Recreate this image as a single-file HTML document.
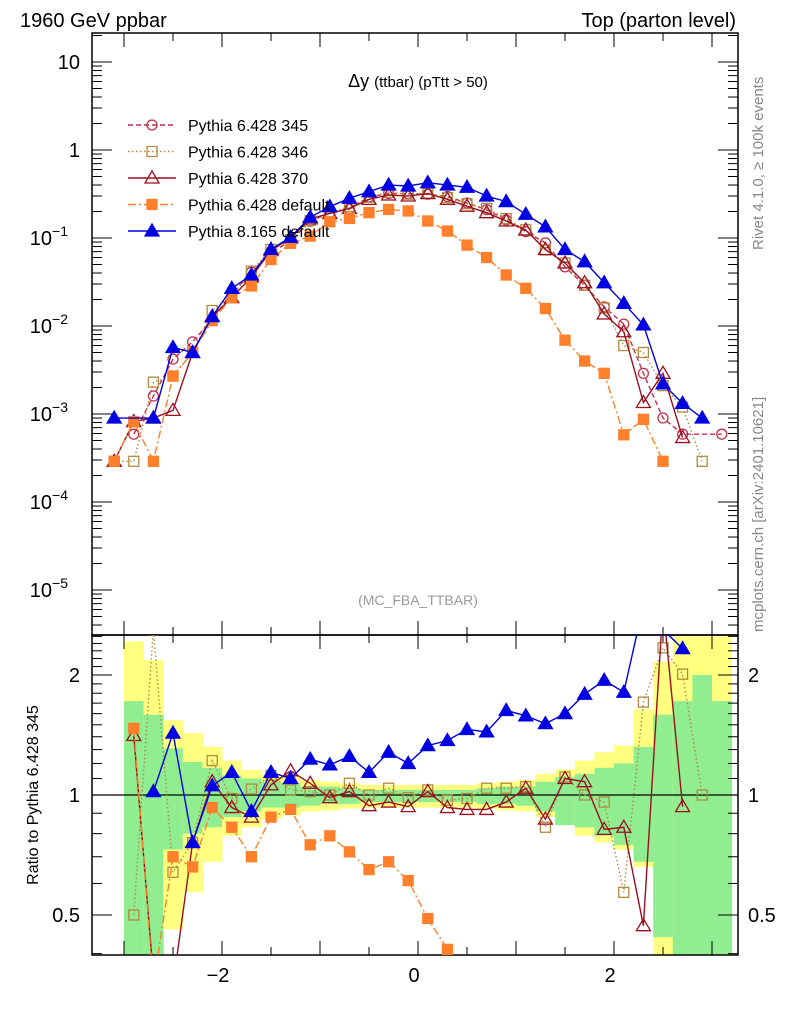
<!DOCTYPE html>
<html><head><meta charset="utf-8"><style>
html,body{margin:0;padding:0;background:#fff;width:786px;height:1024px;overflow:hidden;}
svg{display:block;font-family:"Liberation Sans",sans-serif;}
</style></head><body>
<svg id="chart" width="786" height="1024" viewBox="0 0 786 1024">
<defs>
<clipPath id="clipMain"><rect x="92" y="33" width="646" height="602"/></clipPath>
<clipPath id="clipRatio"><rect x="92" y="635" width="646" height="320"/></clipPath>
</defs>
<g id="bands" clip-path="url(#clipRatio)"></g>
<g id="axes"></g>
<g id="mainMarks" clip-path="url(#clipMain)"></g>
<g id="ratioMarks" clip-path="url(#clipRatio)"></g>
<text x="20" y="27" font-size="20">1960 GeV ppbar</text>
<text x="736" y="27" font-size="20" text-anchor="end">Top (parton level)</text>
<text x="418" y="87" font-size="18" text-anchor="middle">Δy <tspan font-size="15">(ttbar) (pTtt &gt; 50)</tspan></text>
<text x="418" y="605" font-size="14" fill="#999" text-anchor="middle">(MC_FBA_TTBAR)</text>
<text transform="translate(763,250) rotate(-90)" font-size="15" fill="#888">Rivet 4.1.0, ≥ 100k events</text>
<text transform="translate(763,632) rotate(-90)" font-size="15" fill="#888">mcplots.cern.ch [arXiv:2401.10621]</text>
<text transform="translate(38,795) rotate(-90)" font-size="16" text-anchor="middle">Ratio to Pythia 6.428 345</text>
<g id="legend"></g>
</svg>
<script>
const centers = [];
for (let i = 0; i < 32; i++) centers.push(-3.1 + 0.2 * i);
const binEdgesStart = -3.0;
const s345 = [null,5.9e-4,1.6e-3,4.2e-3,6.6e-3,0.012,0.023,0.041,0.068,0.093,0.155,0.193,0.213,0.293,0.32,0.32,0.314,0.296,0.25,0.21,0.16,0.118,0.088,0.047,0.029,0.0165,0.0105,2.9e-3,9e-4,5.9e-4,null,5.9e-4];
const s346 = [2.9e-4,2.9e-4,2.3e-3,2.7e-3,5e-3,0.015,0.022,0.042,0.074,0.096,0.158,0.19,0.228,0.29,0.33,0.315,0.323,0.287,0.245,0.218,0.166,0.124,0.073,0.052,0.029,0.016,6e-3,5e-3,2.1e-3,1.2e-3,2.9e-4,null];
const s370 = [2.9e-4,8.2e-4,9e-4,1.1e-3,5e-3,0.0128,0.021,0.036,0.072,0.1,0.165,0.19,0.217,0.275,0.308,0.30,0.32,0.275,0.23,0.194,0.156,0.123,0.074,0.052,0.031,0.0137,8.6e-3,1.35e-3,2.9e-3,5.4e-4,null,null];
const sDef = [2.9e-4,8.2e-4,2.9e-4,2.7e-3,5e-3,0.0115,0.021,0.0285,0.057,0.087,0.105,0.153,0.167,0.194,0.211,0.203,0.156,0.12,0.083,0.06,0.038,0.0268,0.0158,6.9e-3,4e-3,2.9e-3,5.8e-4,8.7e-4,2.9e-4,null,null,null];
const s8 = [9e-4,null,9e-4,5.7e-3,5e-3,0.0128,0.0268,0.038,0.0744,0.102,0.172,0.227,0.283,0.336,0.40,0.39,0.425,0.40,0.377,0.30,0.259,0.186,0.134,0.074,0.0538,0.031,0.0181,0.0103,2.2e-3,1.32e-3,9e-4,null];
const r346 = [null,0.5,2.6,0.64,0.76,1.22,0.98,1.035,1.12,1.03,1.02,1.0,1.07,1.0,1.04,0.985,1.03,0.97,0.98,1.04,1.04,1.05,0.83,1.11,1.0,0.96,0.57,1.71,2.34,2.01,1.0,null];
const r370 = [null,1.41,0.35,0.26,0.76,1.08,0.93,0.88,1.06,1.15,1.07,0.985,1.02,0.94,0.96,0.935,1.02,0.93,0.92,0.92,0.96,1.04,0.87,1.1,1.08,0.82,0.83,0.47,3.2,0.935,null,null];
const rDef = [null,1.47,0.3,0.7,0.66,0.93,0.83,0.70,0.88,0.92,0.75,0.79,0.72,0.65,0.68,0.61,0.49,0.41,0.33,0.29,0.24,0.23,0.18,0.15,0.14,0.17,0.06,0.3,0.32,null,null,null];
const r8 = [null,null,1.02,1.43,0.76,1.055,1.14,0.91,1.14,1.1,1.23,1.19,1.25,1.14,1.28,1.2,1.33,1.37,1.46,1.44,1.63,1.58,1.51,1.6,1.79,1.94,1.81,3.5,2.6,2.33,null,null];
const yellowHi = [2.43,2.18,1.54,1.43,1.32,1.22,1.155,1.13,1.11,1.09,1.08,1.07,1.06,1.06,1.06,1.06,1.06,1.06,1.07,1.08,1.09,1.13,1.16,1.22,1.28,1.33,1.64,2.16,2.5,2.5,2.5];
const yellowLo = [0.3,0.3,0.46,0.57,0.68,0.79,0.83,0.87,0.89,0.91,0.915,0.925,0.93,0.93,0.93,0.93,0.93,0.93,0.925,0.915,0.91,0.88,0.86,0.79,0.76,0.73,0.66,0.3,0.3,0.3,0.3];
const greenHi = [1.72,1.59,1.31,1.21,1.17,1.12,1.10,1.08,1.07,1.05,1.05,1.04,1.03,1.03,1.03,1.03,1.03,1.03,1.04,1.05,1.05,1.08,1.11,1.13,1.17,1.20,1.32,1.59,1.72,2.0,1.72];
const greenLo = [0.3,0.3,0.73,0.80,0.83,0.88,0.91,0.93,0.93,0.94,0.95,0.95,0.96,0.96,0.96,0.96,0.96,0.96,0.95,0.95,0.94,0.91,0.84,0.83,0.79,0.75,0.68,0.44,0.3,0.3,0.3];
const xTickLabels = [-2, 0, 2];
const yTickDecades = [-5, -4, -3, -2, -1, 0, 1];
const ratioTickLabels = [0.5, 1, 2];

const NS = "http://www.w3.org/2000/svg";
const X0 = 92, X1 = 738, YT = 33, YM = 635, YB = 955;
const xS = v => 418 + 98 * v;
const yS = v => Math.min(1000, 150 - 88 * Math.log10(v));
const rRaw = v => 795 - 120 * Math.log2(v);
const rS = v => Math.max(YM - 30, Math.min(YB + 30, rRaw(v)));
function mk(tag, attrs, parent) {
  const e = document.createElementNS(NS, tag);
  for (const k in attrs) e.setAttribute(k, attrs[k]);
  parent.appendChild(e);
  return e;
}
const axes = document.getElementById('axes');
const bands = document.getElementById('bands');

for (let i = 0; i < yellowHi.length; i++) {
  const xa = xS(binEdgesStart + 0.2 * i), xb = xS(binEdgesStart + 0.2 * (i + 1));
  const y = mk('rect', {x: xa, y: rS(yellowHi[i]), width: xb - xa + 0.5, height: rS(yellowLo[i]) - rS(yellowHi[i]), fill: '#ffff80'}, bands);
  
  
  const g = mk('rect', {x: xa, y: rS(greenHi[i]), width: xb - xa + 0.5, height: rS(greenLo[i]) - rS(greenHi[i]), fill: '#90ee90'}, bands);
  
  
}

const f1 = mk('rect', {x: X0, y: YT, width: X1 - X0, height: YM - YT, fill: 'none', stroke: '#000', 'stroke-width': 1.5}, axes);


const f2 = mk('rect', {x: X0, y: YM, width: X1 - X0, height: YB - YM, fill: 'none', stroke: '#000', 'stroke-width': 1.5}, axes);


const one = mk('line', {x1: X0, x2: X1, y1: rS(1), y2: rS(1), stroke: '#000', 'stroke-width': 1.2}, axes);



for (let v = -3; v <= 3.01; v += 0.5) {
  const x = xS(v);
  if (x < X0 || x > X1) continue;
  const L = Math.abs(v - Math.round(v)) < 1e-6 ? 14 : 8;
  for (const [yb, dir] of [[YM, -1], [YT, 1], [YB, -1], [YM, 1]]) {
    mk('line', {x1: x, x2: x, y1: yb, y2: yb + dir * L, stroke: '#000', 'stroke-width': 1}, axes);
  }
}
xTickLabels.forEach(v => {
  const t = mk('text', {x: xS(v) - 4, y: 982, 'font-size': 20, 'text-anchor': 'middle'}, axes);
  t.textContent = (v < 0 ? '\u2212' : '') + Math.abs(v);
  
  
});

for (let d = -6; d <= 1; d++) {
  for (let m = 1; m <= 9; m++) {
    const v = m * Math.pow(10, d);
    const y = 150 - 88 * Math.log10(v);
    if (y < YT || y > YM) continue;
    const L = m === 1 ? 20 : 10;
    mk('line', {x1: X0, x2: X0 + L, y1: y, y2: y, stroke: '#000'}, axes);
    mk('line', {x1: X1, x2: X1 - L, y1: y, y2: y, stroke: '#000'}, axes);
  }
}
yTickDecades.forEach(d => {
  const y = yS(Math.pow(10, d));
  const t = mk('text', {x: 80, y: y + 7, 'font-size': 20, 'text-anchor': 'end'}, axes);
  
  
  if (d === 0) t.textContent = '1';
  else if (d === 1) t.textContent = '10';
  else {
    t.textContent = '10';
    const s = mk('tspan', {dy: -9, 'font-size': 14}, t);
    s.textContent = '\u2212' + Math.abs(d);
    t.setAttribute('x', 80 - 12);
  }
});

const rt = [0.4,0.5,0.6,0.7,0.8,0.9,1,1.1,1.2,1.3,1.4,1.5,1.6,1.7,1.8,1.9,2,2.1,2.2,2.3,2.4,2.5];
rt.forEach(v => {
  const y = rRaw(v);
  if (y < YM || y > YB) return;
  const L = ratioTickLabels.includes(v) ? 20 : 10;
  mk('line', {x1: X0, x2: X0 + L, y1: y, y2: y, stroke: '#000'}, axes);
  mk('line', {x1: X1, x2: X1 - L, y1: y, y2: y, stroke: '#000'}, axes);
});
ratioTickLabels.forEach(v => {
  const t1 = mk('text', {x: 80, y: rS(v) + 7, 'font-size': 20, 'text-anchor': 'end'}, axes);
  t1.textContent = String(v);
  
  
  const t2 = mk('text', {x: 748, y: rS(v) + 7, 'font-size': 20}, axes);
  t2.textContent = String(v);
  
  
});

const styles = [
  {name: 'pythia-6428-345', label: 'Pythia 6.428 345', color: '#c0304d', dash: '5,3', marker: 'circle', fill: false},
  {name: 'pythia-6428-346', label: 'Pythia 6.428 346', color: '#b08a40', dash: '1.5,2.5', marker: 'square', fill: false},
  {name: 'pythia-6428-370', label: 'Pythia 6.428 370', color: '#9b0f1f', dash: '', marker: 'triangle', fill: false},
  {name: 'pythia-6428-default', label: 'Pythia 6.428 default', color: '#ff7f2a', dash: '8,3,2,3', marker: 'square', fill: true},
  {name: 'pythia-8165-default', label: 'Pythia 8.165 default', color: '#0000e0', dash: '', marker: 'triangle', fill: true}
];
function marker(parent, st, x, y) {
  let e;
  const f = st.fill ? st.color : 'none';
  if (st.marker === 'circle') e = mk('circle', {cx: x, cy: y, r: 5, fill: f, stroke: st.color, 'stroke-width': 1.3}, parent);
  else if (st.marker === 'square') e = mk('rect', {x: x - 5, y: y - 5, width: 10, height: 10, fill: f, stroke: st.color, 'stroke-width': 1.3}, parent);
  else e = mk('polygon', {points: `${x},${y-7} ${x-7},${y+5} ${x+7},${y+5}`, fill: f, stroke: st.color, 'stroke-width': 1.3}, parent);
  return e;
}
function series(parent, st, vals, scale, tag) {
  const pts = [];
  vals.forEach((v, i) => { if (v !== null) pts.push([xS(centers[i]), scale(v)]); });
  const p = mk('polyline', {points: pts.map(p => p.join(',')).join(' '), fill: 'none', stroke: st.color, 'stroke-width': 1.4, 'stroke-dasharray': st.dash}, parent);
  
  
  pts.forEach(q => {
    const m = marker(parent, st, q[0], q[1]);
    
    
  });
}
const mainG = document.getElementById('mainMarks');
const ratioG = document.getElementById('ratioMarks');
[s345, s346, s370, sDef, s8].forEach((d, k) => series(mainG, styles[k], d, yS, ''));
[r346, r370, rDef, r8].forEach((d, k) => series(ratioG, styles[k + 1], d, rS, '-ratio'));

const lg = document.getElementById('legend');
styles.forEach((st, k) => {
  const y = 125 + k * 26.5;
  const l = mk('line', {x1: 128, x2: 176, y1: y, y2: y, stroke: st.color, 'stroke-width': 1.4, 'stroke-dasharray': st.dash}, lg);
  
  
  const m = marker(lg, st, 152, y);
  
  
  const t = mk('text', {x: 188, y: y + 6, 'font-size': 16}, lg);
  t.textContent = st.label;
  
  
});
</script>
</body></html>
